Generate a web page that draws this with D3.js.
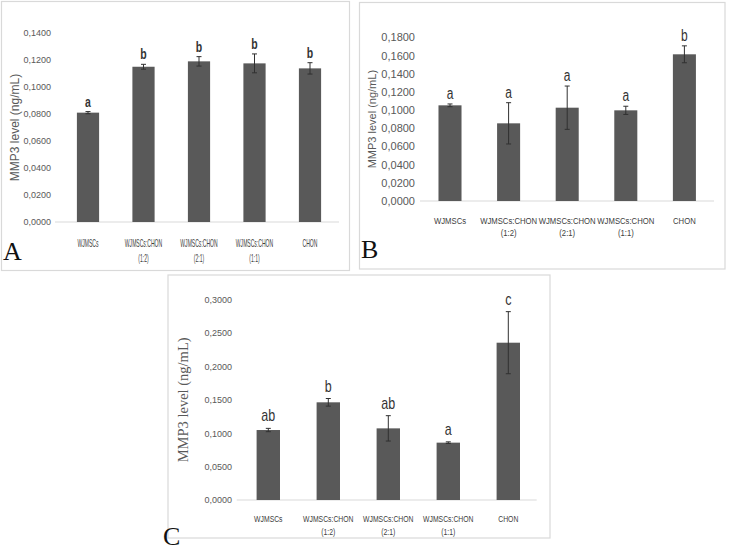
<!DOCTYPE html>
<html><head><meta charset="utf-8">
<script src="https://cdn.jsdelivr.net/npm/d3@7/dist/d3.min.js"></script>
<style>
body{margin:0;background:#fff;}
svg{display:block;}
</style></head>
<body>
<svg id="chart" width="736" height="550"></svg>
<script>
// ---------- data ----------
const categoriesLine1 = ["WJMSCs", "WJMSCs:CHON", "WJMSCs:CHON", "WJMSCs:CHON", "CHON"];
const categoriesLine2 = ["", "(1:2)", "(2:1)", "(1:1)", ""];

const valuesA  = [0.0810, 0.1150, 0.1190, 0.1175, 0.1138];
const errorsA  = [0.0008, 0.0018, 0.0035, 0.0070, 0.0042];
const lettersA = ["a", "b", "b", "b", "b"];
const ticksA   = [0, 0.02, 0.04, 0.06, 0.08, 0.10, 0.12, 0.14];

const valuesB  = [0.1052, 0.0854, 0.1026, 0.0997, 0.1613];
const errorsB  = [0.0015, 0.0227, 0.0238, 0.0045, 0.0093];
const lettersB = ["a", "a", "a", "a", "b"];
const ticksB   = [0, 0.02, 0.04, 0.06, 0.08, 0.10, 0.12, 0.14, 0.16, 0.18];

const valuesC  = [0.1048, 0.1463, 0.1073, 0.0859, 0.2356];
const errorsC  = [0.0025, 0.0057, 0.0190, 0.0012, 0.0465];
const lettersC = ["ab", "b", "ab", "a", "c"];
const ticksC   = [0, 0.05, 0.10, 0.15, 0.20, 0.25, 0.30];

const yTitle = "MMP3 level (ng/mL)";

// ---------- drawing ----------
const svg = d3.select("#chart");
const fmt = v => d3.format(".4f")(v).replace(".", ",");
const BAR = "#595959", GRID = "#d9d9d9", TXT = "#595959";
const SANS = "'Liberation Sans',Arial,sans-serif";
const SERIF = "'Liberation Serif','Times New Roman',serif";

function panel(o) {
  const g = svg.append("g");
  // frame
  g.append("rect").attr("x", o.frame[0]).attr("y", o.frame[1])
    .attr("width", o.frame[2]).attr("height", o.frame[3])
    .attr("fill", "none").attr("stroke", GRID).attr("stroke-width", 1.2);

  const y = d3.scaleLinear().domain([0, o.ticks[o.ticks.length - 1]]).range([o.y0, o.y1]);
  const x = d3.scaleBand().domain(d3.range(o.values.length)).range([o.x0, o.x1]).paddingInner(o.pad).paddingOuter(o.pad / 2);

  // y tick labels via axis
  const ax = g.append("g").attr("transform", `translate(${o.tickRight},0)`)
    .call(d3.axisLeft(y).tickValues(o.ticks).tickFormat(fmt).tickSize(0).tickPadding(0));
  ax.select(".domain").remove();
  ax.selectAll("text").attr("fill", TXT).style("font-family", SANS).style("font-size", o.tickSize + "px");

  // baseline
  g.append("line").attr("x1", o.base[0]).attr("x2", o.base[1])
    .attr("y1", y(0)).attr("y2", y(0)).attr("stroke", GRID).attr("stroke-width", 1.2);

  // bars
  g.selectAll("rect.bar").data(o.values).join("rect").attr("class", "bar")
    .attr("x", (d, i) => x(i)).attr("width", x.bandwidth())
    .attr("y", d => y(d)).attr("height", d => y(0) - y(d)).attr("fill", BAR);

  // error bars
  const eb = g.selectAll("g.err").data(o.values).join("g").attr("class", "err")
    .attr("stroke", "#303030").attr("stroke-width", 1);
  eb.append("line").attr("x1", (d, i) => x(i) + x.bandwidth() / 2).attr("x2", (d, i) => x(i) + x.bandwidth() / 2)
    .attr("y1", (d, i) => y(d + o.errors[i])).attr("y2", (d, i) => y(d - o.errors[i]));
  [1, -1].forEach(s => {
    eb.append("line").attr("x1", (d, i) => x(i) + x.bandwidth() / 2 - 2.5).attr("x2", (d, i) => x(i) + x.bandwidth() / 2 + 2.5)
      .attr("y1", (d, i) => y(d + s * o.errors[i])).attr("y2", (d, i) => y(d + s * o.errors[i]));
  });

  // significance letters
  g.selectAll("text.sig").data(o.values).join("text").attr("class", "sig")
    .attr("transform", (d, i) => `translate(${x(i) + x.bandwidth() / 2},${y(d + o.errors[i]) - o.letterOff}) scale(${o.letterScale},1)`)
    .attr("text-anchor", "middle").attr("fill", "#333")
    .style("font-family", SANS).style("font-size", o.letterSize + "px")
    .style("font-weight", o.letterBold ? "bold" : "normal")
    .text((d, i) => o.letters[i]);

  // category labels
  const cl = g.selectAll("text.cat").data(o.values).join("text").attr("class", "cat")
    .attr("transform", (d, i) => `translate(${x(i) + x.bandwidth() / 2},${o.catY}) scale(${o.catScale},1)`)
    .attr("text-anchor", "middle").attr("fill", "#404040")
    .style("font-family", SANS).style("font-size", o.catSize + "px");
  cl.append("tspan").attr("x", 0).attr("y", 0).text((d, i) => categoriesLine1[i]);
  cl.append("tspan").attr("x", 0).attr("y", o.catGap).text((d, i) => categoriesLine2[i]);

  // y title
  g.append("text").attr("transform", `translate(${o.titleX},${(o.y0 + o.y1) / 2}) rotate(-90)`)
    .attr("text-anchor", "middle").attr("fill", TXT)
    .style("font-family", o.titleFont).style("font-size", o.titleSize + "px").text(yTitle);

  // panel letter
  g.append("text").attr("x", o.tag[0]).attr("y", o.tag[1]).attr("fill", "#111")
    .style("font-family", SERIF).style("font-size", o.tagSize + "px")
    .text(o.tagText);
}

panel({
  values: valuesA, errors: errorsA, letters: lettersA, ticks: ticksA,
  frame: [1.5, 1.5, 348, 269], y0: 222, y1: 33, x0: 60.25, x1: 337.75, pad: 0.6,
  base: [55, 339], tickRight: 51, tickSize: 9,
  letterOff: 5, letterSize: 15, letterBold: true, letterScale: 0.7,
  catY: 246.5, catGap: 16, catSize: 11, catScale: 0.46,
  titleX: 19, titleFont: SANS, titleSize: 12,
  tag: [3, 260], tagSize: 26, tagText: "A"
});

panel({
  values: valuesB, errors: errorsB, letters: lettersB, ticks: ticksB,
  frame: [359.5, 2.5, 365.5, 266.5], y0: 201, y1: 37.3, x0: 420.7, x1: 713.7, pad: 0.607,
  base: [420, 714], tickRight: 415, tickSize: 11,
  letterOff: 5, letterSize: 16, letterBold: false, letterScale: 0.75,
  catY: 224, catGap: 12.5, catSize: 9.3, catScale: 0.83,
  titleX: 376, titleFont: SANS, titleSize: 11,
  tag: [361, 258], tagSize: 26, tagText: "B"
});

panel({
  values: valuesC, errors: errorsC, letters: lettersC, ticks: ticksC,
  frame: [168, 275, 382, 263], y0: 500, y1: 299.7, x0: 238.3, x1: 538.3, pad: 0.61,
  base: [236.7, 536.7], tickRight: 232, tickSize: 9,
  letterOff: 7, letterSize: 16, letterBold: false, letterScale: 0.78,
  catY: 522, catGap: 13, catSize: 9, catScale: 0.76,
  titleX: 188, titleFont: SERIF, titleSize: 14.5,
  tag: [163, 545], tagSize: 26, tagText: "C"
});
</script>
</body></html>
